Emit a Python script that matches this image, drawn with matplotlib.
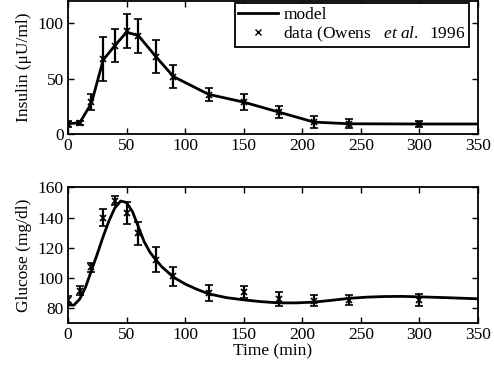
import matplotlib
matplotlib.use("Agg")
import matplotlib.pyplot as plt
from matplotlib.lines import Line2D

plt.rcParams['font.family'] = ['Liberation Serif', 'DejaVu Serif']
plt.rcParams['mathtext.fontset'] = 'custom'
plt.rcParams['mathtext.it'] = 'Liberation Serif:italic'
plt.rcParams['mathtext.rm'] = 'Liberation Serif'
plt.rcParams['font.size'] = 12.5

# measured data (Owens et al. 1996)
t_data = [0, 10, 20, 30, 40, 50, 60, 75, 90, 120, 150, 180, 210, 240, 300]
ins_data = [9.3, 10.4, 29, 68, 80, 93, 89, 70, 52, 35.7, 29, 20.2, 11.3, 9.5, 9.2]
ins_err = [2.5, 2, 7.4, 20, 15, 15.5, 15.3, 15, 10.3, 5.7, 7.4, 5.2, 5.4, 4.2, 2.8]
glu_data = [85.5, 91.5, 107, 140, 151.3, 143, 129.5, 112, 101, 90, 90.4, 86, 85, 85.5, 85.5]
glu_err = [2.4, 3, 2.8, 5.5, 3, 7.2, 7.4, 8.3, 6, 5.3, 4, 4.4, 3.4, 3.4, 3.8]

# model curves
t_ins_model = [0, 10, 20, 30, 40, 50, 60, 75, 90, 120, 150, 180, 210, 240, 300, 350]
ins_model = [9.5, 10.5, 28, 67, 80, 92, 89, 70, 52, 36, 29, 20, 11, 9.5, 9.3, 9.3]

t_glu_model = [0, 5, 10, 15, 20, 25, 30, 35, 40, 45, 50, 55, 60, 65, 70, 75, 80,
               90, 100, 110, 120, 135, 150, 165, 180, 195, 210, 225, 240, 255,
               270, 285, 300, 325, 350]
glu_model = [82.2, 82.0, 86, 94, 105, 116, 127.5, 138, 146.5, 151, 150, 144, 134,
             124, 117, 112, 107.5, 100.5, 96, 92.5, 89.5, 87, 85.5, 84.3, 83.5,
             83.5, 84, 85.2, 86.5, 87.3, 87.7, 87.8, 87.5, 86.9, 86.2]

fig = plt.figure(figsize=(4.94, 3.69), dpi=100)
ax1 = fig.add_axes([0.1377, 0.636, 0.830, 0.361])
ax2 = fig.add_axes([0.1377, 0.124, 0.830, 0.368])

eb = dict(fmt='x', color='black', ms=4, mew=1.2, capsize=3,
          elinewidth=1.6, capthick=1.6, linestyle='none')

ax1.plot(t_ins_model, ins_model, color='black', lw=2)
ax1.errorbar(t_data, ins_data, yerr=ins_err, **eb)
ax1.set_ylim(0, 120)
ax1.set_yticks([0, 50, 100])
ax1.set_ylabel(u'Insulin (\u03bcU/ml)')

ax2.plot(t_glu_model, glu_model, color='black', lw=2)
ax2.errorbar(t_data, glu_data, yerr=glu_err, **eb)
ax2.set_ylim(70, 160)
ax2.set_yticks([80, 100, 120, 140, 160])
ax2.set_ylabel('Glucose (mg/dl)')
ax2.set_xlabel('Time (min)', labelpad=0)

for ax in (ax1, ax2):
    ax.set_xlim(0, 350)
    ax.set_xticks(range(0, 351, 50))
    ax.tick_params(direction='in', length=4, width=1, top=True, right=True, pad=3)
    for s in ax.spines.values():
        s.set_linewidth(1.3)

handles = [Line2D([], [], color='black', lw=2),
           Line2D([], [], color='black', marker='x', ms=4, mew=1, linestyle='none')]
labels = ['model', r'data (Owens   $\mathit{et\ al.}$  1996']
leg = ax1.legend(handles, labels, loc='upper right', bbox_to_anchor=(0.978, 0.985),
                 borderaxespad=0, fancybox=False, edgecolor='black', framealpha=1,
                 handlelength=2.3, borderpad=0.2, labelspacing=0.1,
                 handletextpad=0.3)
leg.get_frame().set_linewidth(1.3)

plt.savefig('out.png', dpi=100)
